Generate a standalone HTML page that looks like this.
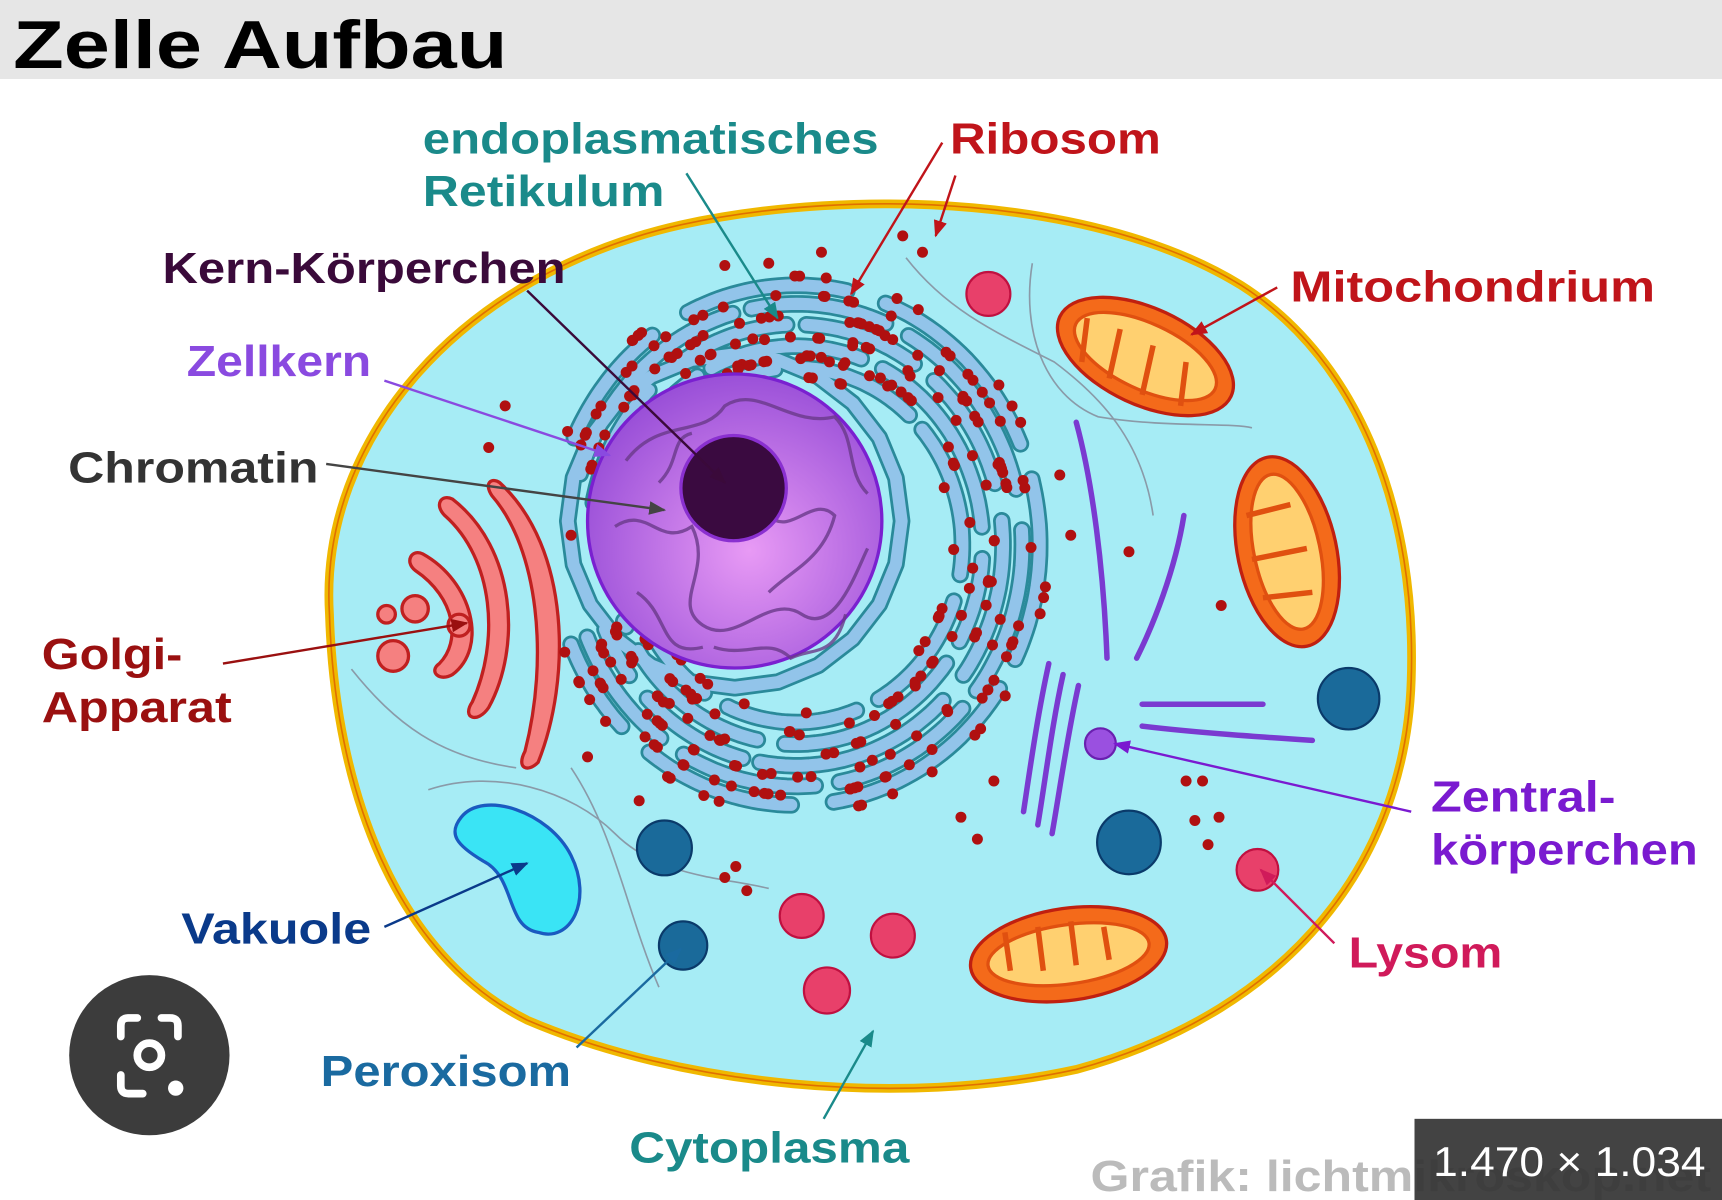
<!DOCTYPE html>
<html><head><meta charset="utf-8"><style>
html,body{margin:0;padding:0;background:#fff;overflow:hidden}
svg{display:block}
text{font-family:"Liberation Sans",sans-serif;font-weight:bold}
</style></head><body>
<svg id="s" width="1722" height="1200" viewBox="0 0 1568 1094" preserveAspectRatio="none" xmlns="http://www.w3.org/2000/svg">
<defs>
<marker id="a" viewBox="0 0 10 10" refX="9" refY="5" markerWidth="7" markerHeight="7" orient="auto-start-reverse"><path d="M0,1 L10,5 L0,9 Z" fill="context-stroke"/></marker>
<radialGradient id="nuc" cx="0.55" cy="0.6" r="0.6"><stop offset="0" stop-color="#e89af5"/><stop offset="1" stop-color="#9a50d8"/></radialGradient>
</defs>
<rect x="0" y="0" width="1568" height="1094" fill="#fff"/>
<rect x="0" y="0" width="1568" height="72" fill="#e6e6e6"/>
<text x="12" y="62" font-size="62" fill="#000" textLength="450" lengthAdjust="spacingAndGlyphs">Zelle Aufbau</text>

<path d="M300,560 C290,400 420,250 620,205 C780,170 1000,180 1130,260 C1240,330 1290,470 1285,620 C1280,780 1180,920 980,975 C820,1010 620,990 480,930 C360,870 305,720 300,560 Z" fill="#a6ecf5" stroke="#f0b800" stroke-width="8"/>
<path d="M300,560 C290,400 420,250 620,205 C780,170 1000,180 1130,260 C1240,330 1290,470 1285,620 C1280,780 1180,920 980,975 C820,1010 620,990 480,930 C360,870 305,720 300,560 Z" fill="none" stroke="#e07000" stroke-width="1.5"/>

<g fill="none" stroke="#8a9aa8" stroke-width="1.5">
<path d="M825,235 C860,280 900,300 960,330 C1000,360 1040,400 1050,470"/>
<path d="M940,240 C930,300 950,360 1000,380 C1060,390 1120,385 1140,390"/>
<path d="M320,610 C360,660 400,690 470,700"/>
<path d="M390,720 C450,700 520,720 560,760 C600,800 660,800 700,810"/>
<path d="M520,700 C560,760 570,830 600,900"/>
</g>

<g fill="#f58080" stroke="#c02020" stroke-width="3">
<path d="M455,440 C520,500 520,620 490,695 C480,705 470,700 478,685 C500,600 490,500 448,452 C440,440 448,435 455,440 Z"/>
<path d="M412,455 C470,500 475,590 445,645 C435,660 420,655 430,640 C455,585 450,510 405,470 C395,460 402,450 412,455 Z"/>
<path d="M385,505 C430,530 445,590 412,615 C400,622 390,612 400,605 C420,585 415,545 378,520 C368,512 375,500 385,505 Z"/>
<circle cx="378" cy="555" r="12"/><circle cx="352" cy="560" r="8"/><circle cx="358" cy="598" r="14"/><circle cx="418" cy="570" r="10"/>
</g>

<g id="er"></g>

<circle cx="669" cy="475" r="134" fill="url(#nuc)" stroke="#7a20d0" stroke-width="3"/>
<g fill="none" stroke="#6a3a8a" stroke-width="3" opacity="0.8">
<path d="M570,420 C600,380 640,400 660,370 C690,350 720,390 760,380 C780,400 770,430 790,450"/>
<path d="M560,480 C590,460 600,500 630,480 C650,520 610,550 640,570 C670,590 700,540 730,560 C760,580 780,520 790,500"/>
<path d="M580,540 C610,560 600,600 640,590"/>
<path d="M700,470 C720,490 740,450 760,470 C750,510 720,520 700,540"/>
<path d="M600,440 C620,420 610,400 630,395"/>
<path d="M650,590 C680,600 700,580 720,600 C740,590 760,600 770,560"/>
</g>
<circle cx="668" cy="445" r="48" fill="#3a0a40" stroke="#8a30d0" stroke-width="3"/>

<g stroke="#c02010" stroke-width="3">
<ellipse cx="1043" cy="325" rx="86" ry="44" transform="rotate(25 1043 325)" fill="#f46a1a"/>
<ellipse cx="1043" cy="325" rx="70" ry="30" transform="rotate(25 1043 325)" fill="#ffd070" stroke="#e05010"/>
<ellipse cx="1172" cy="503" rx="45" ry="88" transform="rotate(-12 1172 503)" fill="#f46a1a"/>
<ellipse cx="1172" cy="503" rx="30" ry="72" transform="rotate(-12 1172 503)" fill="#ffd070" stroke="#e05010"/>
<ellipse cx="973" cy="870" rx="90" ry="42" transform="rotate(-8 973 870)" fill="#f46a1a"/>
<ellipse cx="973" cy="870" rx="74" ry="27" transform="rotate(-8 973 870)" fill="#ffd070" stroke="#e05010"/>
</g>
<g fill="none" stroke="#e05010" stroke-width="5">
<path d="M990,290 L985,330 M1020,300 L1010,345 M1050,315 L1040,360 M1080,330 L1075,370"/>
<path d="M1135,470 L1175,460 M1140,510 L1190,500 M1150,545 L1195,540"/>
<path d="M920,885 L915,850 M950,885 L945,845 M980,880 L975,840 M1010,875 L1005,845"/>
</g>

<path d="M420,745 C440,720 500,740 520,780 C540,820 520,860 490,850 C460,845 470,800 440,785 C415,770 408,760 420,745 Z" fill="#3ae4f5" stroke="#1a5ac0" stroke-width="3"/>

<g fill="#1a6a9a" stroke="#0a3a6a" stroke-width="2">
<circle cx="605" cy="773" r="25"/><circle cx="622" cy="862" r="22"/><circle cx="1228" cy="637" r="28"/><circle cx="1028" cy="768" r="29"/>
</g>
<g fill="#e8406a" stroke="#c01040" stroke-width="2">
<circle cx="900" cy="268" r="20"/><circle cx="730" cy="835" r="20"/><circle cx="813" cy="853" r="20"/><circle cx="753" cy="903" r="21"/><circle cx="1145" cy="793" r="19"/>
</g>

<g fill="none" stroke="#7a3ad0" stroke-width="5" stroke-linecap="round">
<path d="M980,385 C995,440 1005,520 1008,600"/>
<path d="M1078,470 C1070,520 1050,570 1035,600"/>
<path d="M955,605 C945,650 938,700 932,740"/>
<path d="M968,615 C958,660 952,710 945,752"/>
<path d="M982,625 C972,670 965,720 958,760"/>
<path d="M1040,642 L1150,642"/>
<path d="M1040,662 C1090,668 1150,672 1195,675"/>
</g>
<circle cx="1002" cy="678" r="14" fill="#9a50e0" stroke="#6a20b0" stroke-width="2"/>

<g fill="#b01010" id="md"></g>

<g fill="none" stroke-width="2.2" marker-end="url(#a)">
<line x1="625" y1="158" x2="708" y2="290" stroke="#1a8a8a"/>
<line x1="858" y1="130" x2="775" y2="268" stroke="#c0141a"/>
<line x1="870" y1="160" x2="852" y2="215" stroke="#c0141a"/>
<line x1="480" y1="265" x2="660" y2="440" stroke="#3a0a3a"/>
<line x1="1163" y1="262" x2="1085" y2="305" stroke="#c0141a"/>
<line x1="350" y1="347" x2="555" y2="415" stroke="#8a4ae0"/>
<line x1="297" y1="423" x2="605" y2="465" stroke="#444"/>
<line x1="203" y1="605" x2="425" y2="568" stroke="#9a1010"/>
<line x1="1285" y1="740" x2="1015" y2="678" stroke="#7a1ad0"/>
<line x1="350" y1="845" x2="480" y2="787" stroke="#0a3a8a"/>
<line x1="1215" y1="860" x2="1148" y2="793" stroke="#d01a5a"/>
<line x1="525" y1="955" x2="620" y2="865" stroke="#1a6aa0"/>
<line x1="750" y1="1020" x2="795" y2="940" stroke="#1a8a8a"/>
</g>

<g font-size="40">
<text x="385" y="140" fill="#1a8a8a" textLength="415" lengthAdjust="spacingAndGlyphs">endoplasmatisches</text>
<text x="385" y="188" fill="#1a8a8a" textLength="220" lengthAdjust="spacingAndGlyphs">Retikulum</text>
<text x="865" y="140" fill="#c0141a" textLength="192" lengthAdjust="spacingAndGlyphs">Ribosom</text>
<text x="148" y="258" fill="#3a0a3a" textLength="367" lengthAdjust="spacingAndGlyphs">Kern-Körperchen</text>
<text x="1175" y="275" fill="#c0141a" textLength="332" lengthAdjust="spacingAndGlyphs">Mitochondrium</text>
<text x="170" y="343" fill="#8a4ae0" textLength="168" lengthAdjust="spacingAndGlyphs">Zellkern</text>
<text x="62" y="440" fill="#333" textLength="228" lengthAdjust="spacingAndGlyphs">Chromatin</text>
<text x="38" y="610" fill="#9a1010" textLength="128" lengthAdjust="spacingAndGlyphs">Golgi-</text>
<text x="38" y="658" fill="#9a1010" textLength="173" lengthAdjust="spacingAndGlyphs">Apparat</text>
<text x="1303" y="740" fill="#7a1ad0" textLength="168" lengthAdjust="spacingAndGlyphs">Zentral-</text>
<text x="1303" y="788" fill="#7a1ad0" textLength="243" lengthAdjust="spacingAndGlyphs">körperchen</text>
<text x="165" y="860" fill="#0a3a8a" textLength="173" lengthAdjust="spacingAndGlyphs">Vakuole</text>
<text x="1228" y="882" fill="#d01a5a" textLength="140" lengthAdjust="spacingAndGlyphs">Lysom</text>
<text x="292" y="990" fill="#1a6aa0" textLength="228" lengthAdjust="spacingAndGlyphs">Peroxisom</text>
<text x="573" y="1060" fill="#1a8a8a" textLength="255" lengthAdjust="spacingAndGlyphs">Cytoplasma</text>
<text x="993" y="1086" fill="#bbb" textLength="565" lengthAdjust="spacingAndGlyphs">Grafik: lichtmikroskop.net</text>
</g>
<rect x="1288" y="1020" width="280" height="74" fill="#333" opacity="0.92"/>
<text x="1305" y="1072" fill="#fff" font-size="38" style="font-weight:normal" textLength="248" lengthAdjust="spacingAndGlyphs">1.470 × 1.034</text>

<circle cx="136" cy="962" r="73" fill="#3c3c3c"/>
<g fill="none" stroke="#fff" stroke-width="7" stroke-linecap="round">
<path d="M110,945 L110,935 Q110,928 117,928 L125,928 M147,928 L155,928 Q162,928 162,935 L162,945 M110,980 L110,990 Q110,997 117,997 L130,997"/>
<circle cx="136" cy="962" r="11"/>
</g>
<circle cx="160" cy="992" r="7" fill="#fff"/>
</svg>
<script>
(function(){
var NS="http://www.w3.org/2000/svg";
var er=document.getElementById("er"), md=document.getElementById("md");
var seed=7;function r(){seed=(seed*16807)%2147483647;return seed/2147483647;}
function el(t,a,p){var e=document.createElementNS(NS,t);for(var k in a)e.setAttribute(k,a[k]);p.appendChild(e);return e;}
function pt(s,ang,dR){var R=s[0]+dR;return [s[3]+R*s[6]*Math.cos(ang), s[4]+R*s[5]*Math.sin(ang)];}
function arc(s){var p="",n=24;for(var i=0;i<=n;i++){var a=s[1]+(s[2]-s[1])*i/n;var q=pt(s,a,0);p+=(i?"L":"M")+q[0].toFixed(1)+","+q[1].toFixed(1);}return p;}
var segs=[];
var radii=[172,193,214,234,252];
radii.forEach(function(R,i){
 var start=-3.3+i*0.12, end=2.75;
 if(i>=3){start=-2.9;}
 var a=start+r()*0.3;
 while(a<end){var len=0.35+r()*0.7;var b=Math.min(a+len,end);
  segs.push([R,a,b,725,497,0.94,0.88]);
  a=b+0.08+r()*0.1;}
});
segs.push([152,-3.14,3.14,669,475,1,1]);
segs.forEach(function(s){el("path",{d:arc(s),fill:"none",stroke:"#2a8a9a","stroke-width":16,"stroke-linecap":"round","stroke-linejoin":"round"},er);});
segs.forEach(function(s){el("path",{d:arc(s),fill:"none",stroke:"#92c4ea","stroke-width":11,"stroke-linecap":"round","stroke-linejoin":"round"},er);});
for(var i=0;i<320;i++){var s=segs[Math.floor(r()*(segs.length-1))];
 var ang=s[1]+r()*(s[2]-s[1]);var q=pt(s,ang,(r()<0.5?-9:9));
 el("circle",{cx:q[0],cy:q[1],r:5,fill:"#b01010"},er);}
var extra=[[660,242],[700,240],[748,230],[822,215],[840,230],[460,370],[445,408],[520,488],[965,433],[975,488],[1028,503],[1112,552],[535,690],[582,730],[905,712],[875,745],[890,765],[1080,712],[1095,712],[1088,748],[1110,745],[1100,770],[660,800],[670,790],[680,812]];
extra.forEach(function(p){el("circle",{cx:p[0],cy:p[1],r:5},md);});
})();
</script>
</body></html>
